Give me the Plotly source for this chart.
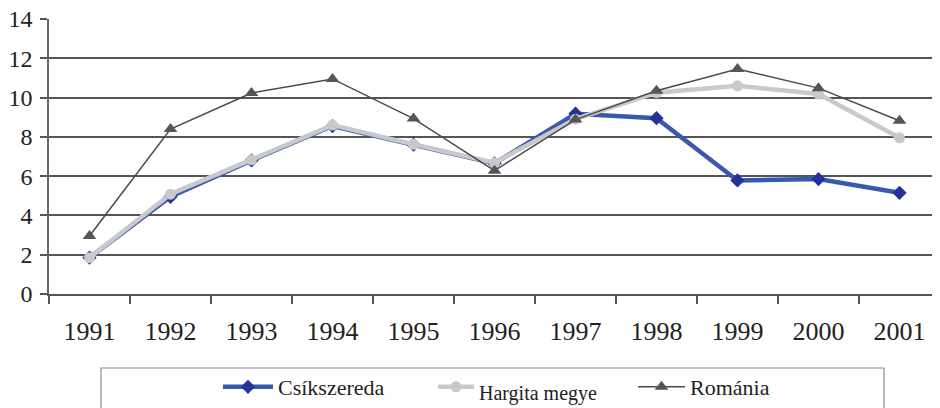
import plotly.graph_objects as go

years = ["1991", "1992", "1993", "1994", "1995", "1996", "1997", "1998", "1999", "2000", "2001"]
csikszereda = [1.85, 4.95, 6.8, 8.55, 7.6, 6.65, 9.18, 8.95, 5.78, 5.85, 5.15]
hargita = [1.85, 5.08, 6.84, 8.6, 7.62, 6.68, 8.9, 10.25, 10.6, 10.18, 7.95]
romania = [2.95, 8.4, 10.23, 10.95, 8.93, 6.28, 8.88, 10.35, 11.45, 10.48, 8.82]
y_ticks = [0, 2, 4, 6, 8, 10, 12, 14]

FONT = "Liberation Serif, Times New Roman, serif"

# page offset of the figure (browser body margin)
OFF = 8
PX0, PX1, PY0, PY1 = 49, 940, 19, 294   # plot area in page pixels


def px(x):
    return (x - PX0) / (PX1 - PX0)


def py(y):
    return (PY1 - y) / (PY1 - PY0)


fig = go.Figure()
fig.add_trace(go.Scatter(
    x=years, y=csikszereda, name="Csíkszereda", mode="lines+markers",
    line=dict(color="#3a58ad", width=4.5),
    marker=dict(symbol="diamond", size=11, color="#24339a"),
    legend="legend",
))
fig.add_trace(go.Scatter(
    x=years, y=hargita, name="<sub><span style='font-size:20px'>Hargita megye</span></sub>",
    mode="lines+markers",
    line=dict(color="#c8c9cc", width=4.5),
    marker=dict(symbol="circle", size=11, color="#c8c9cc"),
    legend="legend2",
))
fig.add_trace(go.Scatter(
    x=years, y=romania, name="Románia", mode="lines+markers",
    line=dict(color="#4a4a4a", width=1.5),
    marker=dict(symbol="triangle-up", size=12, color="#555555"),
    legend="legend3",
))

fig.add_shape(type="rect", xref="paper", yref="paper",
              x0=px(101), x1=px(884), y0=py(430), y1=py(368),
              line=dict(color="#8a8a8a", width=1.2), fillcolor="rgba(0,0,0,0)")

leg_common = dict(
    orientation="h", xanchor="left", yanchor="top",
    font=dict(family=FONT, size=22, color="#222222"),
    bgcolor="rgba(0,0,0,0)", borderwidth=0,
)

fig.update_layout(
    width=940 - OFF, height=408 - OFF,
    margin=dict(l=PX0 - OFF, r=940 - PX1, t=PY0 - OFF, b=408 - PY1, autoexpand=False),
    paper_bgcolor="white", plot_bgcolor="white",
    font=dict(family=FONT, size=22, color="#222222"),
    showlegend=True,
    legend=dict(x=px(218), y=py(366), itemwidth=50, **leg_common),
    legend2=dict(x=px(433), y=py(366), itemwidth=36, **leg_common),
    legend3=dict(x=px(633), y=py(366), itemwidth=47, **leg_common),
    xaxis=dict(
        type="category", range=[-0.5, 10.5],
        showline=True, linecolor="#555555", linewidth=1.5,
        ticks="outside", tickson="boundaries", ticklen=8, tickcolor="#555555", tickwidth=1.5,
        showgrid=False, zeroline=False,
        tickfont=dict(family=FONT, size=26, color="#222222"),
        ticklabelstandoff=13,
    ),
    yaxis=dict(
        range=[0, 14], tickvals=y_ticks,
        showline=True, linecolor="#666666", linewidth=1.5,
        ticks="outside", ticklen=7, tickcolor="#555555", tickwidth=1.5,
        showgrid=True, gridcolor="#555555", gridwidth=1.5,
        zeroline=False,
        tickfont=dict(family=FONT, size=24, color="#222222"),
        ticklabelstandoff=3, ticklabeloverflow="allow",
    ),
)

fig.write_html("out.html")
